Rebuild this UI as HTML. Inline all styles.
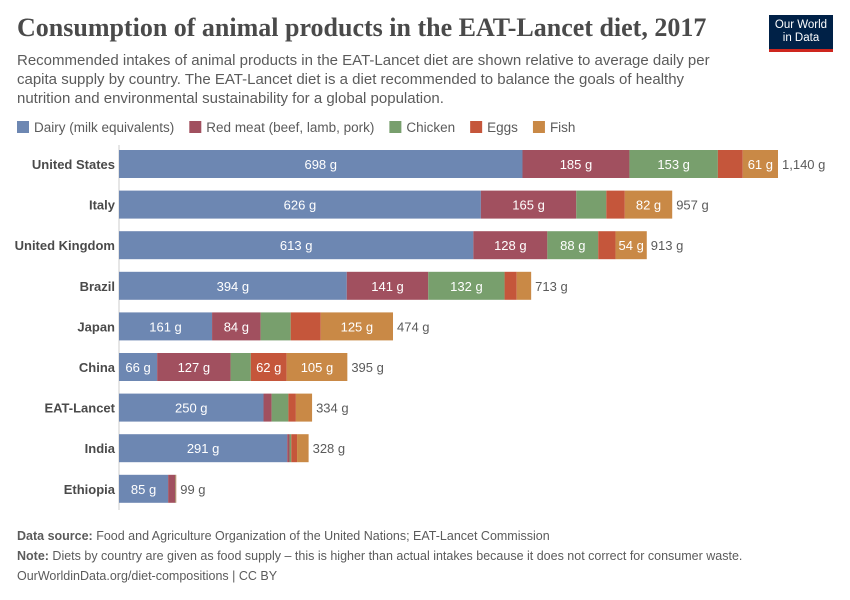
<!DOCTYPE html>
<html><head><meta charset="utf-8"><style>
body{margin:0;background:#fff;font-family:"Liberation Sans",sans-serif;}
#wrap{position:relative;width:850px;height:600px;overflow:hidden;}
.title{position:absolute;left:17px;top:13px;font-family:"Liberation Serif",serif;font-size:26px;color:#4a4a4a;font-weight:bold;}
.sub{position:absolute;left:17px;top:51px;width:722px;font-size:15px;line-height:19px;color:#5b5b5b;}
.logo{position:absolute;left:769px;top:15px;width:64px;height:37px;background:#002147;color:#fff;font-size:11.5px;line-height:13px;text-align:center;padding-top:4px;box-sizing:border-box;border-bottom:3px solid #ce261e;}
.foot{position:absolute;left:17px;font-size:12.5px;color:#5b5b5b;}
</style></head><body><div id="wrap">
<div class="title">Consumption of animal products in the EAT-Lancet diet, 2017</div>
<div class="logo">Our World<br>in Data</div>
<div class="sub">Recommended intakes of animal products in the EAT-Lancet diet are shown relative to average daily per capita supply by country. The EAT-Lancet diet is a diet recommended to balance the goals of healthy nutrition and environmental sustainability for a global population.</div>
<svg id="svg" width="850" height="600" style="position:absolute;left:0;top:0"></svg>
<div class="foot" style="top:529px"><b>Data source:</b> Food and Agriculture Organization of the United Nations; EAT-Lancet Commission</div>
<div class="foot" style="top:549px"><b>Note:</b> Diets by country are given as food supply – this is higher than actual intakes because it does not correct for consumer waste.</div>
<div class="foot" style="top:569px">OurWorldinData.org/diet-compositions | CC BY</div>
</div>
<script>
const categories=["United States","Italy","United Kingdom","Brazil","Japan","China","EAT-Lancet","India","Ethiopia"];
const seriesNames=["Dairy (milk equivalents)","Red meat (beef, lamb, pork)","Chicken","Eggs","Fish"];
const dairy=[698,626,613,394,161,66,250,291,85];
const redMeat=[185,165,128,141,84,127,14,4,12];
const chicken=[153,52,88,132,52,35,29,3,1];
const eggs=[43,32,30,21,52,62,13,10,1];
const fish=[61,82,54,25,125,105,28,20,0];
const colors=["#6d87b2","#a1505f","#789f6d","#c5563b","#c98946"];
const series=[dairy,redMeat,chicken,eggs,fish];
const svg=document.getElementById('svg');const NS="http://www.w3.org/2000/svg";
const x0=119,scale=659/1140;const xs=v=>x0+v*scale;
const yc=i=>164+i*40.6;const bh=28;
function mk(t,a){const e=document.createElementNS(NS,t);for(const k in a)e.setAttribute(k,a[k]);svg.appendChild(e);return e;}
let lx=17;
seriesNames.forEach((n,s)=>{
 const r=mk('rect',{x:lx,y:121,width:12,height:12,fill:colors[s]});
 
 
 const t=mk('text',{x:lx+17,y:132,'font-size':13.5,fill:'#5b5b5b','font-family':'Liberation Sans'});t.textContent=n;
 
 
 lx+=17+t.getComputedTextLength()+15;
});
const ax=mk('line',{x1:x0,y1:145,x2:x0,y2:510,stroke:'#ccc'});


categories.forEach((c,i)=>{
 const y=yc(i);
 const lab=mk('text',{x:x0-4,y:y+5,'text-anchor':'end','font-size':13,'font-weight':'bold',fill:'#4a4a4a'});lab.textContent=c;
 
 
 let cum=0;
 series.forEach((arr,s)=>{
  const v=arr[i];if(v<=0)return;
  const r=mk('rect',{x:xs(cum),y:y-bh/2,width:v*scale,height:bh,fill:colors[s]});
  
  
  if(v>=53){const t=mk('text',{x:xs(cum+v/2),y:y+5,'text-anchor':'middle','font-size':13,fill:'#fff'});t.textContent=v+' g';
   
   }
  cum+=v;
 });
 const tot=mk('text',{x:xs(cum)+4,y:y+5,'font-size':13,fill:'#5b5b5b'});tot.textContent=cum.toLocaleString('en-US')+' g';
 
 
});
</script></body></html>
